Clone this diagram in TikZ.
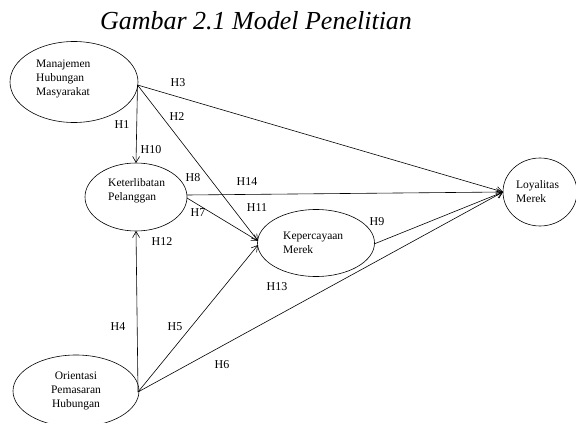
\documentclass[tikz,border=0pt]{standalone}
\usepackage{fontspec}
\setmainfont{Liberation Serif}
\usetikzlibrary{arrows.meta,shapes.geometric}
\begin{document}
\begin{tikzpicture}[x=1pt,y=-1pt,
  ell/.style={draw,ellipse,line width=0.6pt,inner sep=0pt},
  txt/.style={font=\fontsize{11.5}{14}\selectfont,align=left,inner sep=0pt},
  lab/.style={font=\fontsize{12}{14}\selectfont,inner sep=0pt},
  link/.style={line width=0.6pt,-{Straight Barb[length=6pt,width=7pt]}},
  plain/.style={line width=0.6pt}]
\useasboundingbox (0,0) rectangle (576,423);
% title
\node[font=\fontsize{26}{30}\selectfont\itshape,anchor=base,inner sep=0pt] (title) at (256,30) {Gambar 2.1 Model Penelitian};
% ellipses
\node[ell,minimum width=128pt,minimum height=81pt] (mhm) at (74,82) {};
\node[ell,minimum width=102pt,minimum height=68pt] (kp) at (136,197) {};
\node[ell,minimum width=117pt,minimum height=67pt] (km) at (316,243) {};
\node[ell,minimum width=74pt,minimum height=68pt] (lm) at (540,192) {};
\node[ell,minimum width=126pt,minimum height=72pt] (oph) at (76,391) {};
% texts
\node[txt,anchor=west] (tmhm) at (36,79) {Manajemen\\Hubungan\\Masyarakat};
\node[txt,anchor=west] (tkp) at (108,191) {Keterlibatan\\Pelanggan};
\node[txt,anchor=west] (tkm) at (283,243) {Kepercayaan\\Merek};
\node[txt,anchor=west] (tlm) at (516,192) {Loyalitas\\Merek};
\node[txt,align=center] (toph) at (76,391) {Orientasi\\Pemasaran\\Hubungan};
% connection points
\coordinate (m0) at (137.5,85);
\coordinate (o0) at (138,392);
\coordinate (kpT) at (136,163);
\coordinate (kpB) at (136,231);
\coordinate (kpR) at (187,195);
\coordinate (kpR2) at (187,198);
\coordinate (kmL1) at (258,241);
\coordinate (kmL2) at (258,245);
\coordinate (kmR) at (374,244);
\coordinate (lmL) at (503,192);
% connectors
\draw[link] (m0) -- (kpT);
\draw[link] (m0) -- (kmL1);
\draw[link] (m0) -- (lmL);
\draw[link] (kpR) -- (lmL);
\draw[link] (kpR2) -- (kmL1);
\draw[link] (kmR) -- (lmL);
\draw[link] (o0) -- (kpB);
\draw[link] (o0) -- (kmL2);
\draw[link] (o0) -- (lmL);
% labels
\node[lab] (h1) at (122,125) {H1};
\node[lab] (h2) at (177,117) {H2};
\node[lab] (h3) at (178,83) {H3};
\node[lab] (h4) at (118,327) {H4};
\node[lab] (h5) at (175,327) {H5};
\node[lab] (h6) at (222,365) {H6};
\node[lab] (h7) at (198,213) {H7};
\node[lab] (h8) at (193,178) {H8};
\node[lab] (h9) at (377,222) {H9};
\node[lab] (h10) at (151,150) {H10};
\node[lab] (h11) at (257,208) {H11};
\node[lab] (h12) at (162,242) {H12};
\node[lab] (h13) at (277,287) {H13};
\node[lab] (h14) at (247,182) {H14};
\end{tikzpicture}
\end{document}
